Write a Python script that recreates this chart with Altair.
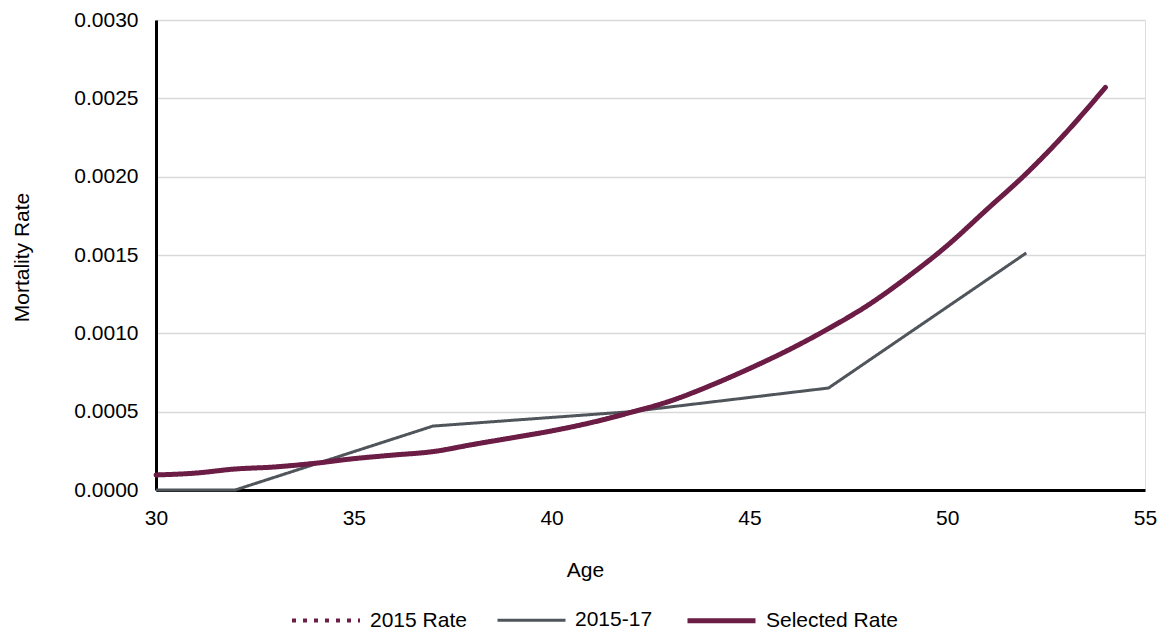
import altair as alt
import pandas as pd

# Mortality rates by age
ages = list(range(30, 55))
rate_2015 = [0.000096, 0.000108, 0.000134, 0.000147, 0.000170, 0.000200, 0.000223,
             0.000245, 0.000290, 0.000333, 0.000377, 0.000430, 0.000495, 0.000568,
             0.000665, 0.000775, 0.000895, 0.001030, 0.001180, 0.001360, 0.001560,
             0.001790, 0.002020, 0.002280, 0.002570]
selected_rate = [0.000096, 0.000108, 0.000134, 0.000147, 0.000170, 0.000200, 0.000223,
                 0.000245, 0.000290, 0.000333, 0.000377, 0.000430, 0.000495, 0.000568,
                 0.000665, 0.000775, 0.000895, 0.001030, 0.001180, 0.001360, 0.001560,
                 0.001790, 0.002020, 0.002280, 0.002570]

# 2015-17 experience (grouped ages)
ages_1517 = [30, 32, 37, 42, 47, 52]
rate_1517 = [0.0, 0.0, 0.000408, 0.000500, 0.000651, 0.001513]

series_names = ["2015 Rate", "2015-17", "Selected Rate"]
series_colors = ["#6B1D45", "#4F555B", "#6B1D45"]
series_dash = [[4, 7], [1, 0], [1, 0]]
series_width = [4, 3, 5]

x_ticks = [30, 35, 40, 45, 50, 55]
y_ticks = [0.0, 0.0005, 0.0010, 0.0015, 0.0020, 0.0025, 0.0030]

FONT = "Liberation Sans"
FS = 21

rows = []
for a, v in zip(ages, rate_2015):
    rows.append({"age": a, "rate": v, "series": "2015 Rate"})
for a, v in zip(ages, selected_rate):
    rows.append({"age": a, "rate": v, "series": "Selected Rate"})
smooth_df = pd.DataFrame(rows)
grey_df = pd.DataFrame({"age": ages_1517, "rate": rate_1517, "series": "2015-17"})

legend = alt.Legend(
    title=None, orient="none", legendX=134, legendY=564, direction="horizontal",
    symbolType="stroke", symbolSize=4624, labelFont=FONT, labelFontSize=FS,
    labelColor="#000000", labelOffset=8, columnPadding=24,
)

enc = dict(
    x=alt.X("age:Q", scale=alt.Scale(domain=[30, 55], nice=False, zero=False),
            axis=alt.Axis(values=x_ticks, title="Age", grid=False, ticks=False,
                          domainColor="#000000", domainWidth=3, labelFlush=False,
                          labelFont=FONT, labelFontSize=FS, labelColor="#000000",
                          labelPadding=17, titleFont=FONT, titleFontSize=FS,
                          titleFontWeight="normal", titleColor="#000000",
                          titleX=429, titleY=80, titleBaseline="middle")),
    y=alt.Y("rate:Q", scale=alt.Scale(domain=[0, 0.003], nice=False),
            axis=alt.Axis(values=y_ticks, format=".4f", title="Mortality Rate",
                          gridColor="#D9D9D9", gridWidth=1.5, ticks=False,
                          domainColor="#000000", domainWidth=3, labelFlush=False,
                          labelFont=FONT, labelFontSize=FS, labelColor="#000000",
                          labelPadding=18, titleFont=FONT, titleFontSize=FS,
                          titleFontWeight="normal", titleColor="#000000",
                          titleX=-134, titleY=237, titleBaseline="middle")),
    color=alt.Color("series:N", scale=alt.Scale(domain=series_names, range=series_colors),
                    legend=legend),
    strokeDash=alt.StrokeDash("series:N", scale=alt.Scale(domain=series_names, range=series_dash),
                              legend=legend),
    strokeWidth=alt.StrokeWidth("series:N",
                                scale=alt.Scale(type="ordinal", domain=series_names, range=series_width),
                                legend=legend),
)

grey_line = alt.Chart(grey_df).mark_line().encode(**enc)
maroon_lines = alt.Chart(smooth_df).mark_line(interpolate="monotone", strokeCap="round").encode(**enc)

chart = alt.layer(grey_line, maroon_lines).properties(
    width=989, height=470,
    padding={"left": 156, "top": 20, "right": 24, "bottom": 141},
    autosize=alt.AutoSizeParams(type="none"),
).configure_view(stroke=None).configure(background="white")

chart.save("out.html", embed_options={"renderer": "svg", "actions": False})
